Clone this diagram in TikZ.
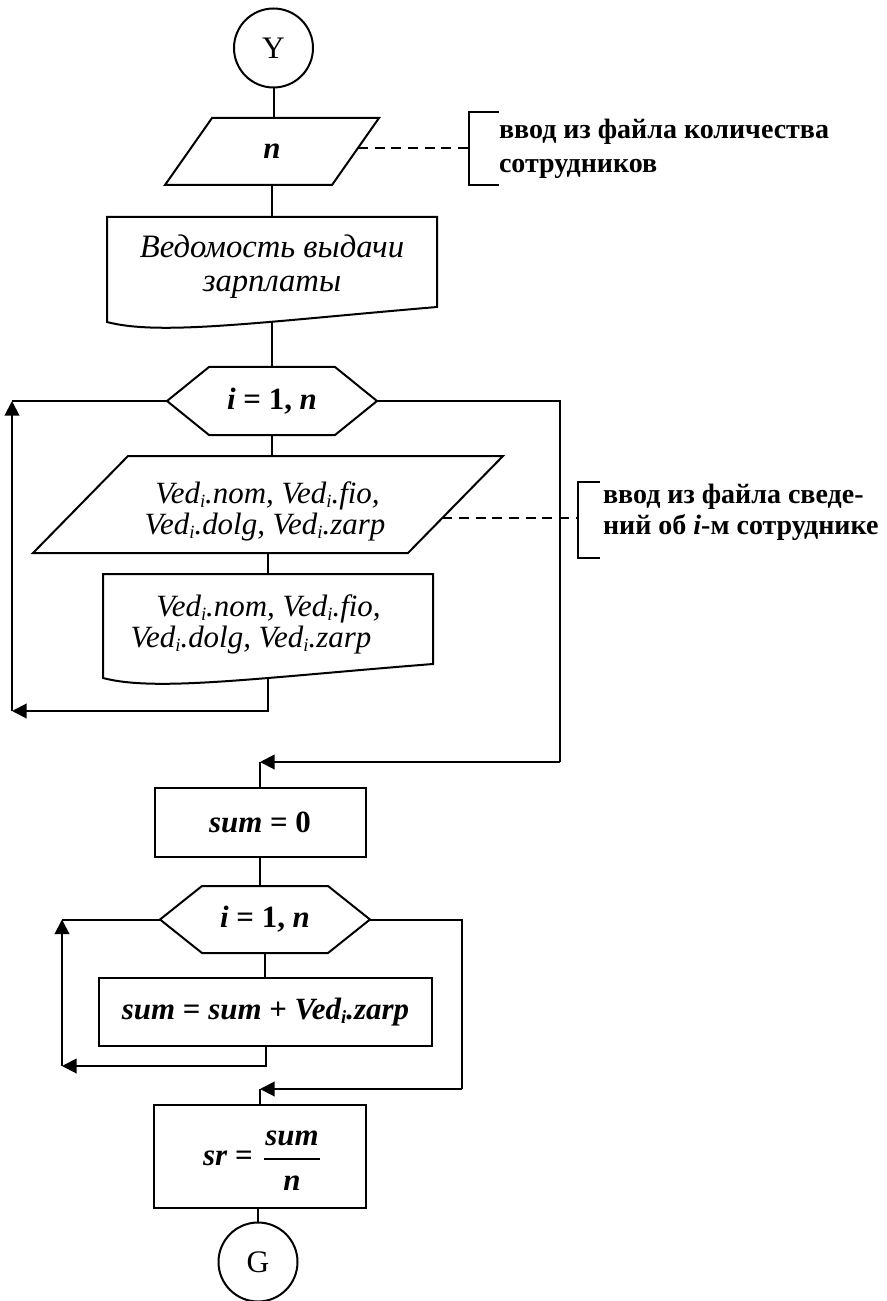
\documentclass[tikz,border=0pt]{standalone}
\usepackage{fontspec}
\setmainfont{Liberation Serif}
\usetikzlibrary{arrows.meta,calc}
% lowered index after "Ved"
\newcommand\sbi{\raisebox{-0.13em}{\fontsize{14}{14}\selectfont\itshape i}}
\newcommand\fml{\fontsize{23.2}{26}\selectfont}
\newcommand\hdr{\fontsize{24.5}{28}\selectfont}
\newcommand\ann{\fontsize{21}{25}\selectfont\bfseries}

\begin{document}
\begin{tikzpicture}[x=0.75pt,y=-0.75pt,
  line width=1.5pt,
  blk/.style={inner sep=0pt, outer sep=0pt},
  box/.style={draw, rectangle, inner sep=0pt, outer sep=0pt},
  conn/.style={draw, circle, inner sep=0pt, minimum size=59.25pt, font=\fontsize{23.5}{23.5}\selectfont},
  arr/.style={-{Triangle[length=11pt,width=11pt]}},
  note/.style={dash pattern=on 7.5pt off 5pt},
  txt/.style={inner sep=0pt, anchor=base},
]
\useasboundingbox (0,0) rectangle (886,1301);

% ---------- start connector ----------
\node[conn] (Y) at (273.5,48) {Y};

% ---------- input of n ----------
\node[blk, minimum width=160.5pt, minimum height=50.25pt, font=\fml\bfseries\itshape] (p1) at (272,151.5) {n};
\draw (p1.south west) -- ($(p1.north west)+(47,0)$) -- (p1.north east) -- ($(p1.south east)+(-47,0)$) -- cycle;

% ---------- document header ----------
\node[blk, minimum width=247.5pt, minimum height=67.5pt] (doc1) at (272,262) {};
\draw (doc1.north west) -- (doc1.north east) -- (doc1.south east)
  .. controls ($(doc1.south east)+(-177,15)$) and ($(doc1.south west)+(53,29)$) .. ($(doc1.south west)+(0,15)$) -- cycle;
\node[txt, font=\hdr\itshape] (doc1a) at (272,258) {Ведомость выдачи};
\node[txt, font=\hdr\itshape] (doc1b) at (272,292) {зарплаты};
\coordinate (d1o) at ($(doc1.south)+(0,14)$);

% ---------- first loop ----------
\node[blk, minimum width=157.5pt, minimum height=51pt, font=\fml\bfseries] (cyc1) at (272,401) {\textit{i} = 1, \textit{n}};
\draw (cyc1.west) -- ($(cyc1.north west)+(42,0)$) -- ($(cyc1.north east)+(-42,0)$) -- (cyc1.east)
  -- ($(cyc1.south east)+(-42,0)$) -- ($(cyc1.south west)+(42,0)$) -- cycle;

\node[blk, minimum width=352.5pt, minimum height=72.75pt] (p2) at (268,504.5) {};
\draw (p2.south west) -- ($(p2.north west)+(95,0)$) -- (p2.north east) -- ($(p2.south east)+(-95,0)$) -- cycle;
\node[txt, font=\fml\itshape] (p2a) at (267.5,503) {Ved\sbi.nom, Ved\sbi.fio,};
\node[txt, font=\fml\itshape] (p2b) at (265,534) {Ved\sbi.dolg, Ved\sbi.zarp};

\node[blk, minimum width=247.5pt, minimum height=67.5pt] (doc2) at (268,619) {};
\draw (doc2.north west) -- (doc2.north east) -- (doc2.south east)
  .. controls ($(doc2.south east)+(-177,14)$) and ($(doc2.south west)+(53,28)$) .. ($(doc2.south west)+(0,14)$) -- cycle;
\node[txt, font=\fml\itshape] (doc2a) at (268.5,616) {Ved\sbi.nom, Ved\sbi.fio,};
\node[txt, font=\fml\itshape] (doc2b) at (251,647) {Ved\sbi.dolg, Ved\sbi.zarp};
\coordinate (d2o) at ($(doc2.south)+(0,13)$);

% ---------- sum ----------
\node[box, minimum width=158.25pt, minimum height=51.75pt, font=\fml\bfseries] (sum0) at (260,822.5) {\textit{sum} = 0};

\node[blk, minimum width=157.5pt, minimum height=50.25pt, font=\fml\bfseries] (cyc2) at (265,919.5) {\textit{i} = 1, \textit{n}};
\draw (cyc2.west) -- ($(cyc2.north west)+(42,0)$) -- ($(cyc2.north east)+(-42,0)$) -- (cyc2.east)
  -- ($(cyc2.south east)+(-42,0)$) -- ($(cyc2.south west)+(42,0)$) -- cycle;

\node[box, minimum width=249.75pt, minimum height=51pt, font=\fml\bfseries] (sumz) at (265.5,1012) {\textit{sum} = \textit{sum} + \textit{Ved\sbi.zarp}};

% ---------- average ----------
\node[box, minimum width=159pt, minimum height=77.25pt] (sr) at (260,1156.5) {};
\node[txt, anchor=base west, font=\fml\bfseries] (srl) at (202,1165) {\textit{sr} =};
\node[txt, font=\fml\bfseries\itshape] (srn) at (292,1145) {sum};
\node[txt, font=\fml\bfseries\itshape] (srd) at (292,1190) {n};
\draw (264,1159) -- (320,1159);

\node[conn] (G) at (258,1262) {G};

% ---------- flow lines ----------
\draw (Y.south) -- (Y.south |- p1.north);
\draw (p1.south) -- (p1.south |- doc1.north);
\draw (d1o) -- (d1o |- cyc1.north);
\draw (cyc1.south) -- (cyc1.south |- p2.north);
\draw (p2.south) -- (p2.south |- doc2.north);

\coordinate (l1b) at (12,711);
\coordinate (l1t) at (12,401);
\draw[arr] (d2o) |- (l1b);
\draw[arr] (l1b) -- (l1t);
\draw (l1t) -- (cyc1.west);

\coordinate (r1) at (560,401);
\coordinate (r1b) at (560,762);
\coordinate (e1) at (r1b -| sum0.north);
\draw (cyc1.east) -- (r1) -- (r1b);
\draw[arr] (r1b) -- (e1);
\draw (e1) -- (sum0.north);

\draw (sum0.south) -- (sum0.south |- cyc2.north);
\draw (cyc2.south) -- (cyc2.south |- sumz.north);

\coordinate (l2b) at (62,1066);
\coordinate (l2t) at (62,919.5);
\draw[arr] (sumz.south) |- (l2b);
\draw[arr] (l2b) -- (l2t);
\draw (l2t) -- (cyc2.west);

\coordinate (r2) at (462,919.5);
\coordinate (r2b) at (462,1089);
\coordinate (e2) at (r2b -| sr.north);
\draw (cyc2.east) -- (r2) -- (r2b);
\draw[arr] (r2b) -- (e2);
\draw (e2) -- (sr.north);

\draw (G.north) -- (G.north |- sr.south);

% ---------- comments ----------
\coordinate (p1rb) at ($(p1.south east)+(-47,0)$);
\coordinate (p1r) at ($(p1.north east)!0.45!(p1rb)$);
\coordinate (b1x) at (469,0);
\coordinate (b1) at (p1r -| b1x);
\draw[note] (p1r) -- (b1);
\draw ($(b1)+(30,-36)$) -- ($(b1)+(0,-36)$) -- ($(b1)+(0,37)$) -- ($(b1)+(30,37)$);
\node[txt, anchor=base west, font=\ann] (a1a) at (498,139) {ввод из файла количества};
\node[txt, anchor=base west, font=\ann] (a1b) at (498,173) {сотрудников};

\coordinate (p2rb) at ($(p2.south east)+(-95,0)$);
\coordinate (p2r) at ($(p2.north east)!0.639!(p2rb)$);
\coordinate (b2x) at (578,0);
\coordinate (b2) at (p2r -| b2x);
\draw[note] (p2r) -- (b2);
\draw ($(b2)+(22,-36)$) -- ($(b2)+(0,-36)$) -- ($(b2)+(0,40)$) -- ($(b2)+(22,40)$);
\node[txt, anchor=base west, font=\ann] (a2a) at (602,503) {ввод из файла сведе-};
\node[txt, anchor=base west, font=\ann] (a2b) at (602,534) {ний об \textit{i}-м сотруднике};
\end{tikzpicture}
\end{document}
